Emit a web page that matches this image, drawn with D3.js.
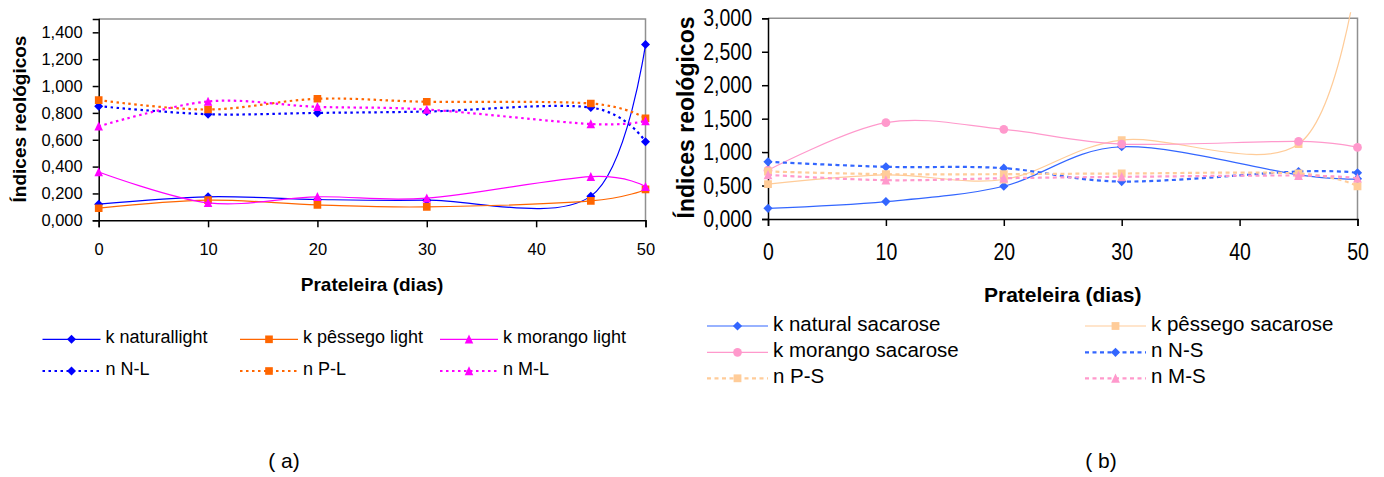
<!DOCTYPE html>
<html><head><meta charset="utf-8">
<script src="https://cdn.jsdelivr.net/npm/d3@7"></script>
<style>body{margin:0;background:#fff}svg{display:block;font-family:"Liberation Sans",Arial,sans-serif}</style>
</head><body><svg id="c" width="1384" height="477"></svg>
<script>
// ---- data ----
const days = [0, 10, 20, 30, 45, 50];
const xTicks = [0, 10, 20, 30, 40, 50];

// (a) light
const kNaturalLight = [0.12, 0.175, 0.155, 0.15, 0.18, 1.31];
const kPessegoLight = [0.09, 0.15, 0.115, 0.10, 0.145, 0.23];
const kMorangoLight = [0.36, 0.13, 0.175, 0.165, 0.325, 0.25];
const nNL = [0.85, 0.79, 0.80, 0.81, 0.84, 0.585];
const nPL = [0.895, 0.825, 0.905, 0.883, 0.87, 0.76];
const nML = [0.70, 0.885, 0.845, 0.825, 0.717, 0.74];
const yTicksA = [0, 0.2, 0.4, 0.6, 0.8, 1.0, 1.2, 1.4];

// (b) sacarose
const kNaturalSac = [0.16, 0.26, 0.49, 1.08, 0.66, 0.60];
const kPessegoSac = [0.52, 0.66, 0.59, 1.18, 1.12, 3.7];
const kMorangoSac = [0.73, 1.44, 1.34, 1.12, 1.16, 1.07];
const nNS = [0.855, 0.78, 0.76, 0.56, 0.71, 0.69];
const nPS = [0.71, 0.67, 0.67, 0.68, 0.68, 0.49];
const nMS = [0.66, 0.58, 0.61, 0.63, 0.65, 0.61];
const yTicksB = [0, 0.5, 1.0, 1.5, 2.0, 2.5, 3.0];

const seriesA = [
  {name:"k naturallight", vals:kNaturalLight, color:"#0000FF", dash:null, sym:"diamond"},
  {name:"k pêssego light", vals:kPessegoLight, color:"#FF6600", dash:null, sym:"square"},
  {name:"k morango light", vals:kMorangoLight, color:"#FF00FF", dash:null, sym:"triangle"},
  {name:"n N-L", vals:nNL, color:"#0000FF", dash:"dot", sym:"diamond"},
  {name:"n P-L", vals:nPL, color:"#FF6600", dash:"dot", sym:"square"},
  {name:"n M-L", vals:nML, color:"#FF00FF", dash:"dot", sym:"triangle"}
];
const seriesB = [
  {name:"k natural sacarose", vals:kNaturalSac, color:"#3366FF", dash:null, sym:"diamond"},
  {name:"k pêssego sacarose", vals:kPessegoSac, color:"#FFCC99", dash:null, sym:"square"},
  {name:"k morango sacarose", vals:kMorangoSac, color:"#FF99CC", dash:null, sym:"circle"},
  {name:"n N-S", vals:nNS, color:"#3366FF", dash:"dash", sym:"diamond"},
  {name:"n P-S", vals:nPS, color:"#FFCC99", dash:"dash", sym:"square"},
  {name:"n M-S", vals:nMS, color:"#FF99CC", dash:"dash", sym:"triangle"}
];

const svg = d3.select("#c");
const fmt = v => v.toFixed(3).replace(".", ",");

function marker(g, sym, x, y, color, s) {
  let p;
  if (sym === "diamond") p = `M${x},${y-s}L${x+s},${y}L${x},${y+s}L${x-s},${y}Z`;
  else if (sym === "square") p = `M${x-s*0.85},${y-s*0.85}h${s*1.7}v${s*1.7}h${-s*1.7}Z`;
  else if (sym === "triangle") p = `M${x},${y-s*1.05}L${x+s*0.95},${y+s*0.95}L${x-s*0.95},${y+s*0.95}Z`;
  if (sym === "circle") g.append("circle").attr("cx", x).attr("cy", y).attr("r", s * 0.95).attr("fill", color);
  else g.append("path").attr("d", p).attr("fill", color);
}

function drawChart(o) {
  const x = d3.scaleLinear().domain([0, 50]).range([o.x0, o.x1]);
  const y = d3.scaleLinear().domain([0, o.ymax]).range([o.y0, o.y1]);
  const g = svg.append("g");
  g.append("path").attr("d", `M${o.x0},${o.y1}H${o.x1}V${o.y0}`).attr("fill", "none").attr("stroke", "#909090").attr("stroke-width", 1.5);
  const ya = g.append("g").attr("transform", `translate(${o.x0},0)`)
    .call(d3.axisLeft(y).tickValues(o.yTicks).tickFormat(fmt).tickSize(6).tickPadding(o.ypad));
  const xa = g.append("g").attr("transform", `translate(0,${o.y0})`)
    .call(d3.axisBottom(x).tickValues(xTicks).tickFormat(d3.format("d")).tickSize(7).tickPadding(o.xpad));
  [ya, xa].forEach(a => {
    a.select(".domain").attr("stroke", "#000").attr("stroke-width", 1.5);
    a.selectAll(".tick line").attr("stroke", "#000").attr("stroke-width", 1.5);
    a.selectAll("text").attr("font-size", o.fs).attr("fill", "#000").attr("font-family", "Liberation Sans, Arial, sans-serif");
    if (o.sx !== 1) {
      a.selectAll("text").attr("transform", `scale(${o.sx},1)`).each(function () {
        const xv = this.getAttribute("x");
        if (xv !== null) this.setAttribute("x", (+xv) / o.sx);
      });
    }
  });
  const cid = "clip" + o.id;
  svg.append("clipPath").attr("id", cid).append("rect")
    .attr("x", o.x0 - 8).attr("y", o.y1 - 6).attr("width", o.x1 - o.x0 + 16).attr("height", o.y0 - o.y1 + 14);
  const pg = g.append("g").attr("clip-path", `url(#${cid})`);
  const line = d3.line().x((d, i) => x(days[i])).y(d => y(d)).curve(d3.curveCardinal.tension(0));
  o.series.forEach(s => {
    const dashArr = s.dash === "dot" ? o.dotArr : s.dash === "dash" ? o.dashArr : null;
    pg.append("path").attr("d", line(s.vals)).attr("fill", "none").attr("stroke", s.color)
      .attr("stroke-width", s.dash ? 2.2 : 1.2).attr("stroke-dasharray", dashArr);
    s.vals.forEach((v, i) => { if (v <= o.ymax) marker(pg, s.sym, x(days[i]), y(v), s.color, o.ms); });
  });
  g.append("text").attr("x", (o.x0 + o.x1) / 2).attr("y", o.xtY).attr("text-anchor", "middle")
    .attr("font-weight", "bold").attr("font-size", o.tfs).text("Prateleira (dias)");
  g.append("text").attr("transform", `translate(${o.ytX},${o.ytY}) rotate(-90)`).attr("text-anchor", "middle")
    .attr("font-weight", "bold").attr("font-size", o.ytfs).text("Índices reológicos");
  o.series.forEach((s, i) => {
    const [lx, ly] = o.legPos[i];
    const dashArr = s.dash === "dot" ? o.dotArr : s.dash === "dash" ? o.dashArr : null;
    g.append("line").attr("x1", lx).attr("x2", lx + o.legLen).attr("y1", ly).attr("y2", ly)
      .attr("stroke", s.color).attr("stroke-width", s.dash ? 2.2 : 1.2).attr("stroke-dasharray", dashArr);
    marker(g, s.sym, lx + o.legLen / 2, ly, s.color, o.ms);
    g.append("text").attr("x", lx + o.legLen + 5).attr("y", ly + o.lfs * 0.23).attr("font-size", o.lfs).text(s.name);
  });
  g.append("text").attr("x", o.capX).attr("y", 467.5).attr("text-anchor", "middle").attr("font-size", 21).text(o.cap);
}

drawChart({id:"a", x0:98.7, x1:645.5, y0:220.3, y1:18.9, ymax:1.5, yTicks:yTicksA, series:seriesA,
  fs:16.5, sx:1, ypad:10, xpad:16, tfs:19, ytfs:19, xtY:290.5, ytX:25.5, ytY:119,
  dotArr:"2.5,3.5", dashArr:null, ms:4.5, legLen:58, lfs:18,
  legPos:[[42.5,339.3],[240,339.3],[440,339.3],[42.5,371],[240,371],[440,371]], capX:284, cap:"( a)"});

drawChart({id:"b", x0:768, x1:1357.5, y0:219, y1:18.3, ymax:3.0, yTicks:yTicksB, series:seriesB,
  fs:23.5, sx:0.83, ypad:10, xpad:17, tfs:21, ytfs:23, xtY:301.5, ytX:694, ytY:117.5,
  dotArr:null, dashArr:"4,3.5", ms:4.6, legLen:61, lfs:20.5,
  legPos:[[707,326],[1085,326],[707,352.3],[1085,352.3],[707,378.3],[1085,378.3]], capX:1101, cap:"( b)"});
</script></body></html>
